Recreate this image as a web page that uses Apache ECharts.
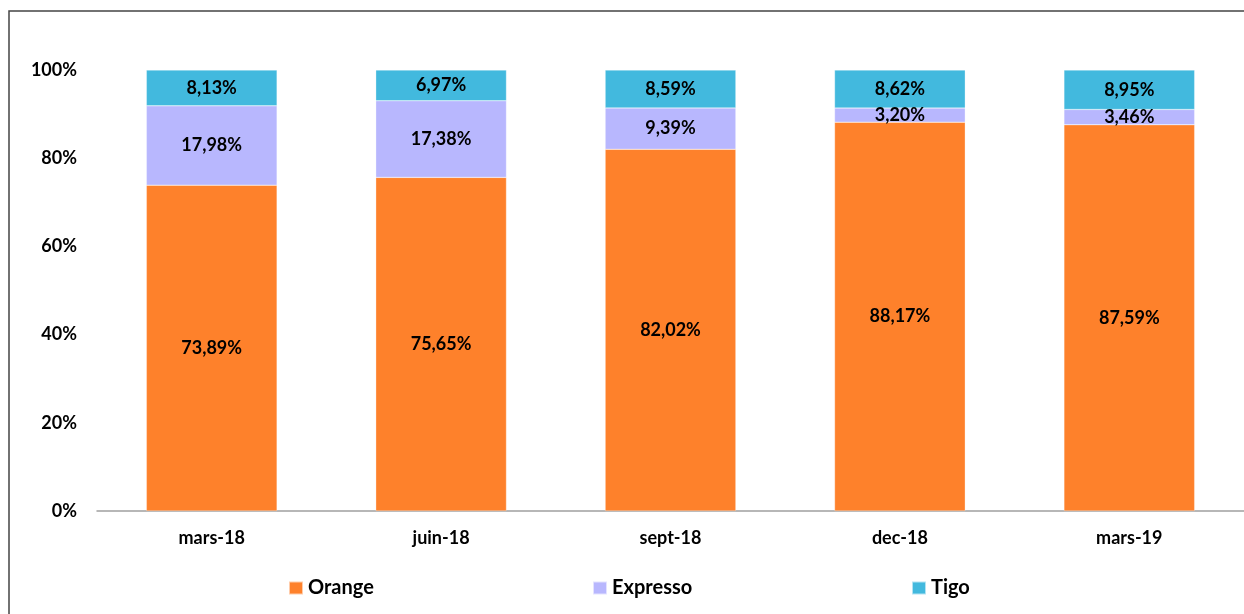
<!DOCTYPE html>
<html>
<head>
<meta charset="utf-8">
<script src="https://cdn.jsdelivr.net/npm/echarts@6/dist/echarts.min.js"></script>
<style>
  html, body { margin: 0; padding: 0; background: #fff; }
  #chart { width: 1244px; height: 614px; }
</style>
</head>
<body>
<div id="chart"></div>
<script>
const categories = ['mars-18', 'juin-18', 'sept-18', 'dec-18', 'mars-19']
const orange = [73.89, 75.65, 82.02, 88.17, 87.59]
const expresso = [17.98, 17.38, 9.39, 3.20, 3.46]
const tigo = [8.13, 6.97, 8.59, 8.62, 8.95]
const yTicks = [0, 20, 40, 60, 80, 100]

const font = 'Lato, "Open Sans", sans-serif'
const colors = { Orange: '#fe812b', Expresso: '#b8b7fe', Tigo: '#42b9de' }

const chart = echarts.init(document.getElementById('chart'))

function serie(name, data) {
  return {
    name: name,
    type: 'bar',
    stack: 'total',
    barWidth: '57%',
    data: data,
    itemStyle: { color: colors[name], borderColor: 'rgba(255,255,255,0.6)', borderWidth: 0.5 },
    label: {
      show: true,
      position: 'inside',
      color: '#000',
      fontFamily: font,
      fontWeight: 'bold',
      fontSize: 18,
      formatter: p => p.value.toFixed(2).replace('.', ',') + '%'
    }
  }
}

function legendAt(name, left) {
  return {
    data: [name],
    left: left,
    top: 578,
    padding: 0,
    itemWidth: 14,
    itemHeight: 13,
    itemGap: 0,
    icon: 'rect',
    textStyle: { fontFamily: font, fontWeight: 'bold', fontSize: 20, color: '#000' }
  }
}

chart.setOption({
  backgroundColor: '#fff',
  animation: false,
  graphic: [{
    type: 'rect',
    shape: { x: 9, y: 11, width: 1400, height: 800 },
    style: { fill: 'none', stroke: '#444', lineWidth: 1.5 }
  }],
  legend: [legendAt('Orange', 288), legendAt('Expresso', 592), legendAt('Tigo', 911)],
  grid: { left: 97, top: 70, width: 1153, height: 441 },
  xAxis: {
    type: 'category',
    data: categories,
    axisTick: { show: false },
    axisLine: { lineStyle: { color: '#a0a0a0', width: 1.5 } },
    axisLabel: { color: '#000', fontFamily: font, fontWeight: 'bold', fontSize: 18, margin: 18 }
  },
  yAxis: {
    type: 'value',
    min: yTicks[0],
    max: yTicks[yTicks.length - 1],
    interval: 20,
    axisLine: { show: false },
    axisTick: { show: false },
    splitLine: { show: false },
    axisLabel: { color: '#000', fontFamily: font, fontWeight: 'bold', fontSize: 18, margin: 20, formatter: '{value}%' }
  },
  series: [serie('Orange', orange), serie('Expresso', expresso), serie('Tigo', tigo)]
})
</script>
</body>
</html>
